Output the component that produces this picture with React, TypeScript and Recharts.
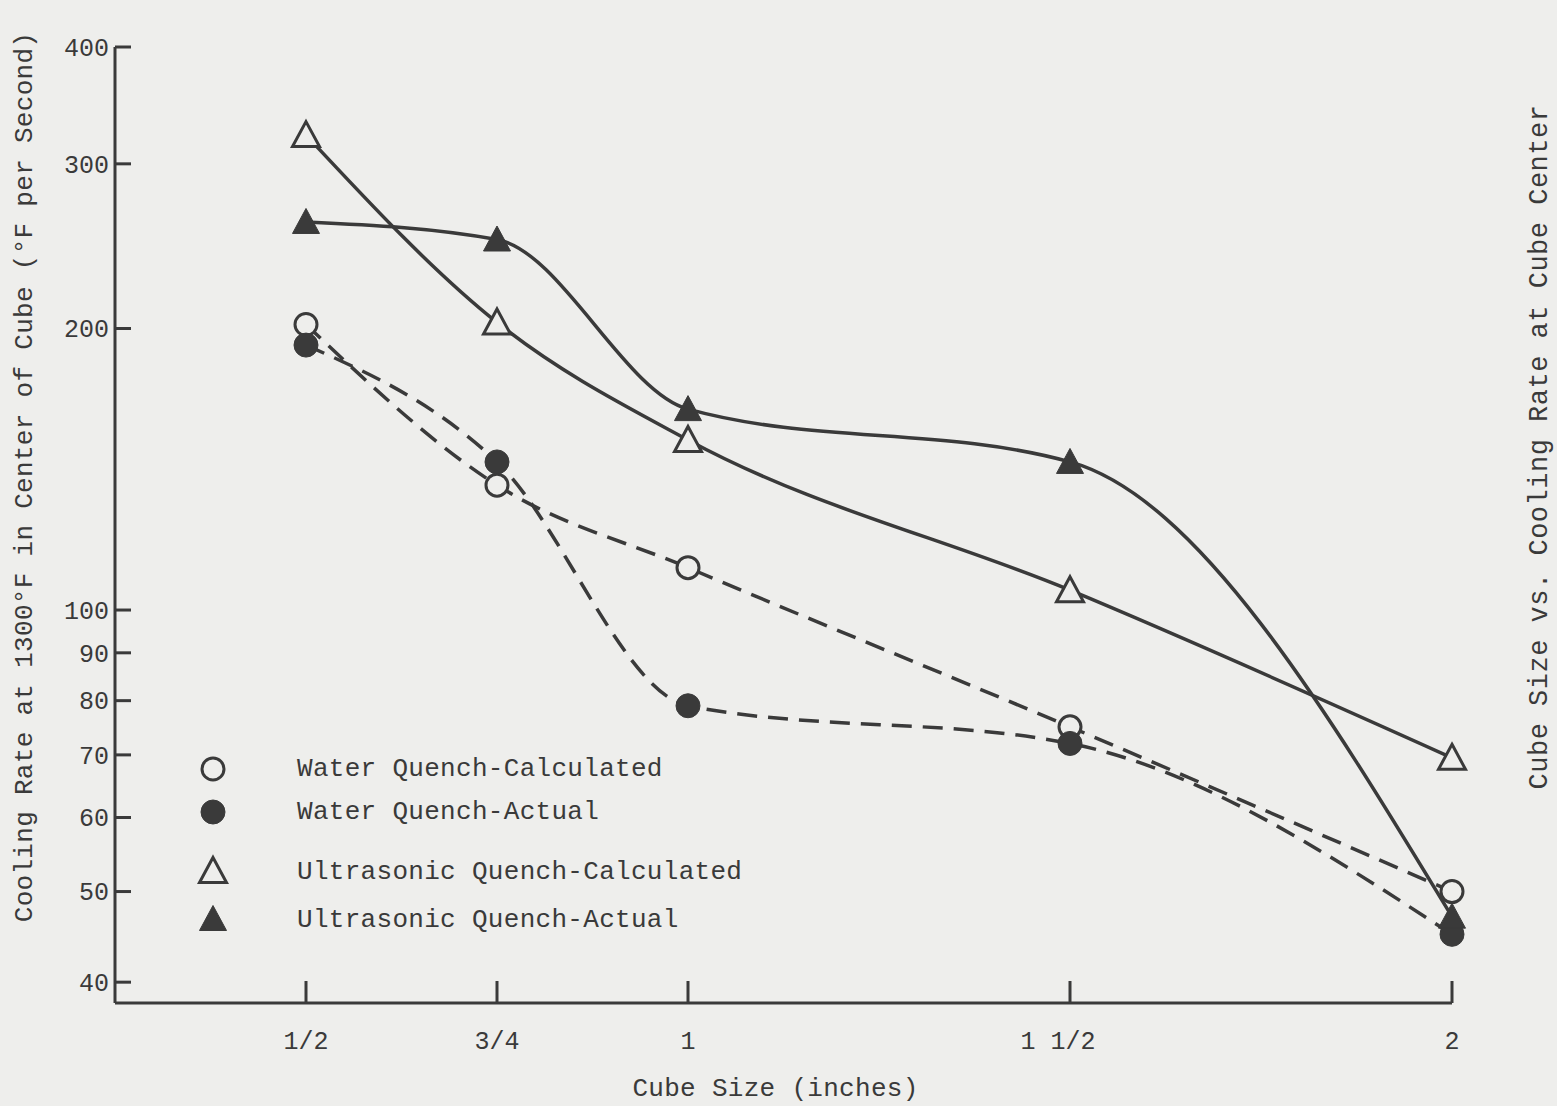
import React from "react";
import {
  LineChart,
  Line,
  XAxis,
  YAxis,
  Legend,
} from "recharts";

const INK = "#3a3a3a";
const PAPER = "#eeeeec";
const FONT = "'Liberation Mono', 'DejaVu Sans Mono', monospace";

const cubeSizes = [0.5, 0.75, 1, 1.5, 2];
const xTickLabels = ["1/2", "3/4", "1", "1 1/2", "2"];
const yTicks = [40, 50, 60, 70, 80, 90, 100, 200, 300, 400];

const waterCalc = [202, 136, 111, 75, 50];
const waterActual = [192, 144, 79, 72, 45];
const ultraCalc = [322, 203, 152, 105, 69.5];
const ultraActual = [260, 249, 164, 144, 47];

type Shape = "circle" | "triangle";

const series: { key: string; label: string; values: number[]; shape: Shape; filled: boolean; dashed: boolean }[] = [
  { key: "waterCalc", label: "Water Quench-Calculated", values: waterCalc, shape: "circle", filled: false, dashed: true },
  { key: "waterActual", label: "Water Quench-Actual", values: waterActual, shape: "circle", filled: true, dashed: true },
  { key: "ultraCalc", label: "Ultrasonic Quench-Calculated", values: ultraCalc, shape: "triangle", filled: false, dashed: false },
  { key: "ultraActual", label: "Ultrasonic Quench-Actual", values: ultraActual, shape: "triangle", filled: true, dashed: false },
];

const data = cubeSizes.map((x, i) => {
  const row: Record<string, number> = { x };
  series.forEach((s) => (row[s.key] = s.values[i]));
  return row;
});

function Marker({ cx, cy, shape, filled }: { cx: number; cy: number; shape: Shape; filled: boolean }) {
  if (shape === "circle") {
    return (
      <circle
        cx={cx}
        cy={cy}
        r={filled ? 12 : 11}
        fill={filled ? INK : PAPER}
        stroke={INK}
        strokeWidth={filled ? 1 : 3}
      />
    );
  }
  const w = 27;
  const h = 23;
  const pts = `${cx},${cy - h / 2 - 2} ${cx + w / 2},${cy + h / 2} ${cx - w / 2},${cy + h / 2}`;
  return (
    <polygon
      points={pts}
      fill={filled ? INK : PAPER}
      stroke={INK}
      strokeWidth={filled ? 1 : 3}
      strokeLinejoin="miter"
    />
  );
}

const XTick = (props: any) => {
  const { x, y, payload } = props;
  const idx = cubeSizes.indexOf(payload.value);
  // the typed "1 1/2" sits a little left of its tick
  const shift = payload.value === 1.5 ? -12 : 0;
  return (
    <g>
      <line x1={x} x2={x} y1={y} y2={y - 22} stroke={INK} strokeWidth={3} />
      <text x={x + shift} y={y + 46} textAnchor="middle" fill={INK} fontFamily={FONT} fontSize={25}>
        {xTickLabels[idx] ?? payload.value}
      </text>
    </g>
  );
};

const YTick = (props: any) => {
  const { x, y, payload } = props;
  return (
    <g>
      <line x1={x} x2={x + 16} y1={y} y2={y} stroke={INK} strokeWidth={3} />
      <text x={x - 6} y={y} dy="0.35em" textAnchor="end" fill={INK} fontFamily={FONT} fontSize={25}>
        {payload.value}
      </text>
    </g>
  );
};

const LegendBox = () => {
  const rowTops = [0, 43, 103, 151];
  return (
    <div style={{ position: "relative", width: 600, height: 180, fontFamily: FONT, fontSize: 26, color: INK }}>
      {series.map((s, i) => (
        <div key={s.key} style={{ position: "absolute", left: 0, top: rowTops[i], height: 36, display: "flex", alignItems: "center" }}>
          <svg width={36} height={36} style={{ marginRight: 66 }}>
            <Marker cx={18} cy={s.shape === "triangle" ? 17 : 18} shape={s.shape} filled={s.filled} />
          </svg>
          <span style={{ whiteSpace: "pre", letterSpacing: 0.3 }}>{s.label}</span>
        </div>
      ))}
    </div>
  );
};

const YLabel = (props: any) => {
  const vb = props.viewBox;
  const cx = 25;
  const cy = vb.y + vb.height / 2 - 48;
  return (
    <text
      x={cx}
      y={cy}
      transform={`rotate(-90 ${cx} ${cy})`}
      textAnchor="middle"
      dominantBaseline="central"
      fill={INK}
      fontFamily={FONT}
      fontSize={26}
      letterSpacing={0.3}
    >
      Cooling Rate at 1300°F in Center of Cube (°F per Second)
    </text>
  );
};

const XLabel = (props: any) => {
  const vb = props.viewBox;
  return (
    <text
      x={vb.x + vb.width / 2 - 8}
      y={vb.y + 86}
      textAnchor="middle"
      dominantBaseline="central"
      fill={INK}
      fontFamily={FONT}
      fontSize={26}
      letterSpacing={0.3}
    >
      Cube Size (inches)
    </text>
  );
};

export default function App() {
  return (
    <div style={{ position: "relative", width: 1557, height: 1106, background: PAPER, overflow: "hidden" }}>
      <style>{`body{margin:0;background:${PAPER};}`}</style>
      <LineChart
        width={1557}
        height={1106}
        data={data}
        margin={{ top: 47, right: 105, bottom: 0, left: 0 }}
      >
        <XAxis
          dataKey="x"
          type="number"
          domain={[0.25, 2]}
          ticks={cubeSizes}
          height={103}
          tickSize={0}
          tickMargin={0}
          tickLine={false}
          tick={<XTick />}
          axisLine={{ stroke: INK, strokeWidth: 3 }}
          interval={0}
          label={<XLabel />}
        />
        <YAxis
          type="number"
          scale="log"
          domain={[38, 400]}
          allowDataOverflow
          ticks={yTicks}
          width={115}
          tickSize={0}
          tickMargin={0}
          tickLine={false}
          tick={<YTick />}
          axisLine={{ stroke: INK, strokeWidth: 3 }}
          interval={0}
          label={<YLabel />}
        />
        <Legend
          layout="vertical"
          align="center"
          verticalAlign="middle"
          content={<LegendBox />}
          wrapperStyle={{ position: "absolute", left: 195, top: 751, width: 600 }}
        />
        {series.map((s) => (
          <Line
            key={s.key}
            dataKey={s.key}
            name={s.label}
            type="monotone"
            stroke={INK}
            strokeWidth={3.5}
            strokeDasharray={s.dashed ? "20 11" : undefined}
            isAnimationActive={false}
            activeDot={false}
            dot={(p: any) => (
              <Marker key={`${s.key}-${p.index}`} cx={p.cx} cy={p.cy} shape={s.shape} filled={s.filled} />
            )}
          />
        ))}
      </LineChart>
      <div
        style={{
          position: "absolute",
          left: 1540,
          top: 447,
          transform: "translate(-50%, -50%) rotate(-90deg)",
          whiteSpace: "nowrap",
          fontFamily: FONT,
          fontSize: 27,
          letterSpacing: 0.5,
          color: INK,
        }}
      >
        Cube Size vs. Cooling Rate at Cube Center
      </div>
    </div>
  );
}
